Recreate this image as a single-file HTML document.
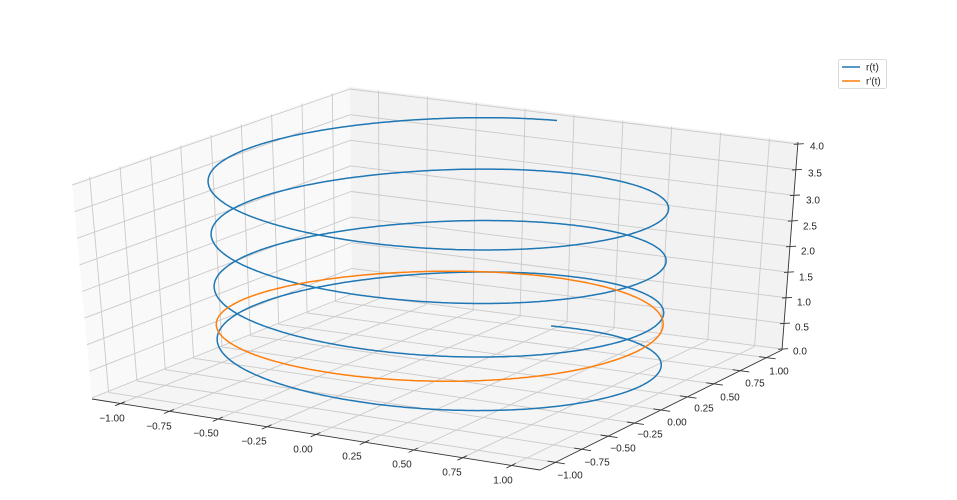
<!DOCTYPE html>
<html><head><meta charset="utf-8"><style>
html,body{margin:0;padding:0;background:#fff;}
svg{display:block;font-family:"Liberation Sans","DejaVu Sans",sans-serif;}
</style></head><body>
<svg id="s" width="957" height="500" viewBox="0 0 957 500" xmlns="http://www.w3.org/2000/svg"></svg>
<script>
const S=document.getElementById('s');
const B0={A:[92,399],B:[540,470],C:[782,350],D:[352,295]};
const T0={A:[72,183],B:[543,250],C:[798,142],D:[350,87]};
const XL=1.146, ZMIN=-0.02, ZMAX=4.04;
function bil(Q,u,v){return [Q.A[0]*(1-u)*(1-v)+Q.B[0]*u*(1-v)+Q.C[0]*u*v+Q.D[0]*(1-u)*v,
 Q.A[1]*(1-u)*(1-v)+Q.B[1]*u*(1-v)+Q.C[1]*u*v+Q.D[1]*(1-u)*v];}
function P(x,y,z){const u=(x+XL)/(2*XL),v=(y+XL)/(2*XL),w=(z-ZMIN)/(ZMAX-ZMIN);
 const b=bil(B0,u,v),t=bil(T0,u,v);return [b[0]+(t[0]-b[0])*w,b[1]+(t[1]-b[1])*w];}
let h='';
function poly(pts,fill){h+=`<polygon points="${pts.map(p=>p.map(n=>n.toFixed(1)).join(',')).join(' ')}" fill="${fill}" stroke="none"/>`;}
function line(a,b,c,w){h+=`<line x1="${a[0].toFixed(1)}" y1="${a[1].toFixed(1)}" x2="${b[0].toFixed(1)}" y2="${b[1].toFixed(1)}" stroke="${c}" stroke-width="${w}"/>`;}
poly([P(-XL,-XL,ZMIN),P(-XL,XL,ZMIN),P(-XL,XL,ZMAX),P(-XL,-XL,ZMAX)],'#f9f9f9');
poly([P(-XL,XL,ZMIN),P(XL,XL,ZMIN),P(XL,XL,ZMAX),P(-XL,XL,ZMAX)],'#f2f2f2');
poly([P(-XL,-XL,ZMIN),P(XL,-XL,ZMIN),P(XL,XL,ZMIN),P(-XL,XL,ZMIN)],'#f5f5f5');
const gc='#cacaca',gw=0.9;
const tk=[-1,-0.75,-0.5,-0.25,0,0.25,0.5,0.75,1];
for(const t of tk){
 line(P(t,-XL,ZMIN),P(t,XL,ZMIN),gc,gw);
 line(P(-XL,t,ZMIN),P(XL,t,ZMIN),gc,gw);
 line(P(t,XL,ZMIN),P(t,XL,ZMAX),gc,gw);
 line(P(-XL,t,ZMIN),P(-XL,t,ZMAX),gc,gw);
}
for(let z=0;z<=4.001;z+=0.5){
 line(P(-XL,-XL,z),P(-XL,XL,z),gc,gw);
 line(P(-XL,XL,z),P(XL,XL,z),gc,gw);
}
const ac='#333';
line(P(-XL,-XL,ZMIN),P(XL,-XL,ZMIN),ac,0.9);
line(P(XL,-XL,ZMIN),P(XL,XL,ZMIN),ac,0.9);
line(P(XL,XL,ZMIN),P(XL,XL,ZMAX),ac,0.9);
for(const t of tk){
 const a=P(t,-XL,ZMIN),b=P(t,-XL+0.08,ZMIN);const d=[a[0]-b[0],a[1]-b[1]];
 line([a[0]-d[0]*0.5,a[1]-d[1]*0.5],[a[0]+d[0]*0.6,a[1]+d[1]*0.6],ac,0.9);
 const c=P(XL,t,ZMIN),e=P(XL-0.08,t,ZMIN);const f=[c[0]-e[0],c[1]-e[1]];
 line([c[0]-f[0]*0.5,c[1]-f[1]*0.5],[c[0]+f[0]*0.6,c[1]+f[1]*0.6],ac,0.9);
}
for(let z=0;z<=4.001;z+=0.5){const a=P(XL,XL,z);line([a[0]-4,a[1]+0.3],[a[0]+6,a[1]-0.3],ac,0.9);}
const xl=[[112,418,'−1.00'],[159,426,'−0.75'],[206,433,'−0.50'],[254,441,'−0.25'],[303,449,'0.00'],[352,456,'0.25'],[402,464,'0.50'],[452,472,'0.75'],[503,480,'1.00']];
const yl=[[570,475,'−1.00'],[597,462,'−0.75'],[623,448,'−0.50'],[650,434,'−0.25'],[677,422,'0.00'],[704,408,'0.25'],[730,397,'0.50'],[755,383,'0.75'],[779,371,'1.00']];
const zl=[[800,351,'0.0'],[802,327,'0.5'],[804,302,'1.0'],[806,277,'1.5'],[808,251,'2.0'],[810,226,'2.5'],[813,200,'3.0'],[815,173,'3.5'],[817,146,'4.0']];
for(const [x,y,s] of xl.concat(yl)) h+=`<text x="${x}" y="${y+3.5}" font-size="10" fill="#262626" text-anchor="middle">${s}</text>`;
for(const [x,y,s] of zl) h+=`<text x="${x-7}" y="${y+3.5}" font-size="10" fill="#262626" text-anchor="start">${s}</text>`;
let pb=[];for(let i=0;i<=1600;i++){const t=8*Math.PI*i/1600;pb.push(P(Math.sin(t),Math.cos(t),t/(2*Math.PI)+0.05));}
h+=`<polyline points="${pb.map(p=>p[0].toFixed(1)+','+p[1].toFixed(1)).join(' ')}" fill="none" stroke="#1f77b4" stroke-width="1.5"/>`;
let po=[];for(let i=0;i<=400;i++){const t=2*Math.PI*i/400;po.push(P(Math.cos(t),Math.sin(t),1));}
h+=`<polyline points="${po.map(p=>p[0].toFixed(1)+','+p[1].toFixed(1)).join(' ')}" fill="none" stroke="#ff7f0e" stroke-width="1.5"/>`;
h+=`<rect x="838.5" y="59.5" width="48" height="29" rx="2" fill="#fff" fill-opacity="0.8" stroke="#d0d0d0" stroke-width="0.8"/>`;
h+=`<line x1="842" y1="67" x2="860" y2="67" stroke="#1f77b4" stroke-width="1.5"/>`;
h+=`<line x1="842" y1="81" x2="860" y2="81" stroke="#ff7f0e" stroke-width="1.5"/>`;
h+=`<text x="866" y="70.5" font-size="10" fill="#262626">r(t)</text>`;
h+=`<text x="866" y="84.5" font-size="10" fill="#262626">r'(t)</text>`;
S.innerHTML=h;
</script>
</body></html>
